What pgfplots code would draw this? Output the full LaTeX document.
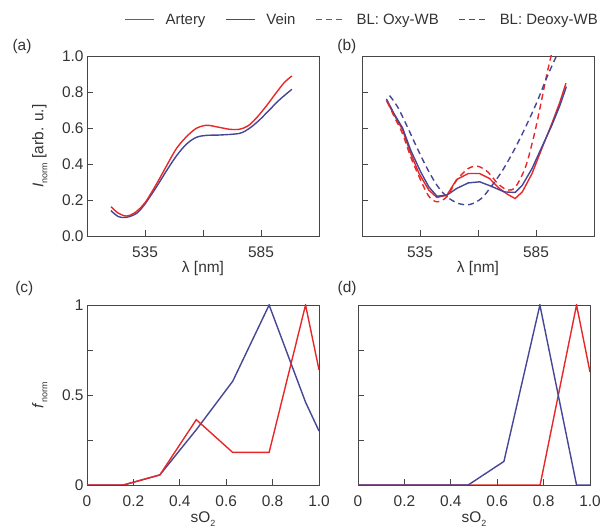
\documentclass[border=0pt]{standalone}
\usepackage{fontspec}
\setmainfont{Liberation Sans}
\usepackage{pgfplots}
\pgfplotsset{compat=1.18}

\definecolor{artery}{RGB}{232,40,40}
\definecolor{vein}{RGB}{70,70,150}
\definecolor{axgray}{RGB}{70,70,70}

\newcommand{\sub}[1]{\raisebox{-0.5ex}{\fontsize{9}{9}\selectfont #1}}

\pgfplotsset{
  panel/.style={
    scale only axis, width=232bp, height=180bp,
    axis line style={axgray, line width=0.8bp},
    tick style={axgray, line width=0.8bp},
    tick align=inside, tick pos=left, major tick length=6bp,
    ticklabel style={font=\fontsize{15.5}{18}\selectfont, text=black!80},
    xticklabel style={inner ysep=11bp},
    label style={font=\fontsize{15.5}{18}\selectfont, text=black!80},
    /pgf/number format/assume math mode=true,
    title style={font=\fontsize{15.5}{18}\selectfont, text=black!80, anchor=center},
    every axis plot/.append style={line width=1.4bp},
    legend image code/.code={\draw[#1, line width=1bp] (0bp,0bp) -- (29bp,0bp);},
  },
  spec/.style={panel,
    xmin=510, xmax=610, ymin=0, ymax=1,
    xtick={535,560,585}, xticklabels={535,,585},
    ytick={0,0.2,0.4,0.6,0.8,1},
    xlabel={λ [nm]},
    xlabel style={at={(axis description cs:0.5,-0.18)}, anchor=center}},
  hist/.style={panel,
    xmin=0, xmax=1, ymin=0, ymax=1,
    xtick={0,0.2,0.4,0.6,0.8,1}, xticklabels={0,0.2,0.4,0.6,0.8,1.0},
    ytick={0,0.25,0.5,0.75,1},
    xlabel={sO\sub{2}},
    xlabel style={at={(axis description cs:0.5,-0.19)}, anchor=center}},
}

\begin{document}
\begin{tikzpicture}
\path[use as bounding box] (0,0) rectangle (602bp,529bp);

% (a) mean spectra
\begin{axis}[spec, at={(87bp,293bp)}, anchor=south west,
  yticklabels={0.0,0.2,0.4,0.6,0.8,1.0},
  ylabel={\textit{I}\sub{norm} [arb. u.]},
  ylabel style={at={(axis description cs:-0.203,0.5)}, anchor=center},
  title={(a)}, title style={at={(axis description cs:-0.28,1.017)}}]
\addplot[vein, smooth] coordinates {
  (520.3,0.141) (523.6,0.107) (527.1,0.104) (531.4,0.126) (535,0.178)
  (540,0.274) (544.3,0.363) (548.6,0.446) (552.9,0.511) (557.1,0.548)
  (561.4,0.559) (567.1,0.561) (575.7,0.570) (580,0.598) (584.3,0.644)
  (588.6,0.700) (592.9,0.756) (598.3,0.815)};
\addplot[artery, smooth] coordinates {
  (520.3,0.163) (523.6,0.126) (527.1,0.111) (530.7,0.130) (535,0.185)
  (540,0.290) (544.3,0.390) (548.6,0.487) (552.9,0.552) (557.1,0.598)
  (561.4,0.615) (565.7,0.607) (571.4,0.593) (575.7,0.593) (579.3,0.611)
  (582.9,0.654) (587.1,0.719) (591.4,0.793) (595,0.852) (598.3,0.889)};
\end{axis}

% (b) baseline-removed spectra
\begin{axis}[spec, at={(362bp,293bp)}, anchor=south west,
  yticklabels={},
  title={(b)}, title style={at={(axis description cs:-0.065,1.017)}},
  legend columns=4,
  legend style={draw=none, fill=none, inner sep=0pt,
    at={(axis description cs:1.017,1.2)}, anchor=east,
    font=\fontsize{15}{18}\selectfont, text=black!80,
    nodes={inner sep=0pt},
    /tikz/every odd column/.append style={column sep=11bp},
    /tikz/every even column/.append style={column sep=20bp}}]
\addplot[artery] coordinates {
  (520.5,0.753) (524,0.670) (527.5,0.590) (531,0.458) (534.6,0.347)
  (538.8,0.255) (542.3,0.214) (546.6,0.227) (550.8,0.314) (555.8,0.347)
  (560.7,0.347) (565,0.319) (569.2,0.264) (572.7,0.232) (576,0.208)
  (579.1,0.245) (583.3,0.347) (587.5,0.485) (591.8,0.624) (595.3,0.744)
  (597.9,0.849)};
\addlegendentry{Artery}
\addplot[vein] coordinates {
  (520.5,0.762) (524,0.675) (527.5,0.600) (531,0.476) (535.3,0.356)
  (538.8,0.273) (542.3,0.221) (546.6,0.227) (550.8,0.264) (555.8,0.295)
  (560.7,0.301) (565.6,0.277) (571.3,0.245) (576,0.242) (579.1,0.282)
  (583.3,0.375) (587.5,0.494) (591.8,0.614) (595.3,0.725) (598.1,0.830)};
\addlegendentry{Vein}
\addplot[artery, dash pattern=on 6bp off 4bp, smooth] coordinates {
  (520.9,0.747) (524,0.660) (527.5,0.568) (531,0.439) (535.3,0.310)
  (538.8,0.221) (542.3,0.190) (546.6,0.218) (550.8,0.310) (555.8,0.375)
  (560,0.387) (564.2,0.356) (568.5,0.292) (572.7,0.255) (576.2,0.273)
  (580.5,0.384) (584,0.550) (586.8,0.716) (589.7,0.900) (591.5,1.000)
  (592.5,1.060)};
\addlegendentry{BL: Oxy-WB}
\addplot[vein, dash pattern=on 6bp off 4bp, smooth] coordinates {
  (521.9,0.780) (525.4,0.716) (529.6,0.605) (533.9,0.485) (538.1,0.375)
  (542.3,0.282) (546.6,0.218) (551.5,0.181) (556.5,0.175) (561.4,0.208)
  (565.6,0.273) (570.6,0.365) (575.5,0.476) (580.5,0.605) (585.4,0.744)
  (589.7,0.882) (593.2,0.983) (594.9,1.030)};
\addlegendentry{BL: Deoxy-WB}
\end{axis}

% (c) sO2 histogram, method 1
\begin{axis}[hist, at={(87bp,44bp)}, anchor=south west,
  yticklabels={0,,0.5,,1},
  ylabel={\textit{f}\sub{norm}},
  ylabel style={at={(axis description cs:-0.203,0.5)}, anchor=center},
  title={(c)}, title style={at={(axis description cs:-0.27,1.061)}}]
\addplot[vein] coordinates {
  (0,0) (0.157,0) (0.314,0.056) (0.471,0.307) (0.628,0.576)
  (0.785,1.0) (0.942,0.46) (1.0,0.30)};
\addplot[artery] coordinates {
  (0,0) (0.157,0) (0.314,0.056) (0.471,0.363) (0.628,0.181)
  (0.785,0.181) (0.942,1.0) (1.0,0.64)};
\end{axis}

% (d) sO2 histogram, method 2
\begin{axis}[hist, at={(358bp,44bp)}, anchor=south west,
  yticklabels={},
  title={(d)}, title style={at={(axis description cs:-0.047,1.061)}}]
\addplot[artery] coordinates {
  (0,0) (0.157,0) (0.314,0) (0.471,0) (0.628,0) (0.785,0)
  (0.942,1.0) (1.0,0.628)};
\addplot[vein] coordinates {
  (0,0) (0.157,0) (0.314,0) (0.475,0) (0.629,0.131) (0.784,1.0)
  (0.942,0) (1.0,0)};
\end{axis}
\end{tikzpicture}
\end{document}
